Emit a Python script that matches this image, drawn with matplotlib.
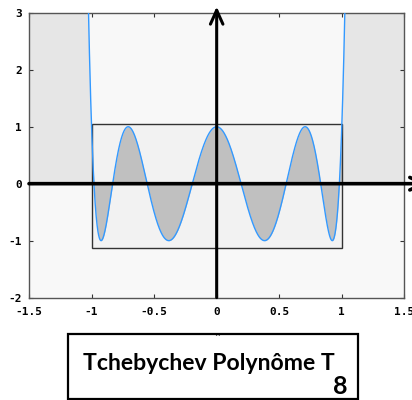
"""
Tchebychev polynomial T8 on [-1.5, 1.5], with the [-1, 1] box and arrowed axes
"""
import numpy as np
import matplotlib
matplotlib.use('Agg')
import matplotlib.pyplot as plt
from matplotlib.patches import Rectangle

# T8(x) = 128x^8 - 256x^6 + 160x^4 - 32x^2 + 1
t8_coeffs = [128, 0, -256, 0, 160, 0, -32, 0, 1]
x_range = [-1.5, 1.5]
y_range = [-2, 3]
x_ticks = [-1.5, -1, -0.5, 0, 0.5, 1, 1.5]
x_tick_labels = ['-1.5', '-1', '-0.5', '0', '0.5', '1', '1.5']
y_ticks = [-2, -1, 0, 1, 2, 3]
y_tick_labels = ['-2', '-1', '0', '1', '2', '3']
box_x = [-1, 1]
box_y = [-1.13, 1.05]
title_main = 'Tchebychev Polynôme T'
title_sub = '8'

fig = plt.figure(figsize=(4.12, 4.0), dpi=100)
ax = fig.add_axes([0.0704, 0.256, 0.911, 0.712])
ax.set_facecolor('#f8f8f8')

xs = np.linspace(x_range[0], x_range[1], 3001)
ys = np.polyval(t8_coeffs, xs)
inside = np.abs(xs) <= 1

# shaded areas between the curve and the x axis
ax.fill_between(xs, 0, ys, where=~inside | (np.abs(xs) <= 1.0005), color='#e6e6e6', lw=0, zorder=1)
ax.add_patch(Rectangle((box_x[0], box_y[0]), box_x[1] - box_x[0], box_y[1] - box_y[0],
                       facecolor='#f2f2f2', edgecolor='none', zorder=1.5))
ax.fill_between(xs, 0, ys, where=inside, color='#c0c0c0', lw=0, zorder=2)
ax.add_patch(Rectangle((box_x[0], box_y[0]), box_x[1] - box_x[0], box_y[1] - box_y[0],
                       facecolor='none', edgecolor='#333333', lw=1.0, zorder=3))
ax.plot(xs, ys, color='#3399ff', lw=1.0, zorder=4)

# axes with arrows
ax.annotate('', xy=(1.69, 0), xytext=(x_range[0], 0), annotation_clip=False,
            arrowprops=dict(arrowstyle='->,head_length=1.0,head_width=0.45', color='black', lw=2.6,
                            shrinkA=0, shrinkB=0), zorder=5)
ax.annotate('', xy=(0, 3.11), xytext=(0, y_range[0]), annotation_clip=False,
            arrowprops=dict(arrowstyle='->,head_length=1.0,head_width=0.45', color='black', lw=2.2,
                            shrinkA=0, shrinkB=0), zorder=5)

ax.set_xlim(x_range)
ax.set_ylim(y_range)
ax.set_xticks(x_ticks)
ax.set_xticklabels(x_tick_labels)
ax.set_yticks(y_ticks)
ax.set_yticklabels(y_tick_labels)
ax.tick_params(direction='in', length=3, width=0.8, color='#333333',
               top=True, right=True, labelsize=8, labelcolor='black')
ax.tick_params(axis='x', pad=7)
ax.tick_params(axis='y', pad=5)
for lab in ax.get_xticklabels() + ax.get_yticklabels():
    lab.set_family('DejaVu Sans Mono')
    lab.set_weight('bold')
for sp in ax.spines.values():
    sp.set_color('#555555')
    sp.set_linewidth(1.0)

# title box
fig.patches.append(Rectangle((0.165, 0.0025), 0.704, 0.1625, transform=fig.transFigure,
                             facecolor='white', edgecolor='black', lw=1.6))
t = fig.text(0.2015, 0.075, title_main, family='Lato', weight='bold', fontsize=16.6,
             ha='left', va='baseline')
fig.canvas.draw()
bb = t.get_window_extent().transformed(fig.transFigure.inverted())
fig.text(bb.x1 - 0.004, 0.014, title_sub, family='Lato', weight='bold', fontsize=18,
         ha='left', va='baseline')
fig.text(0.527, 0.158, '^', fontsize=5, ha='center', va='center')

fig.savefig('out.png', dpi=100)
